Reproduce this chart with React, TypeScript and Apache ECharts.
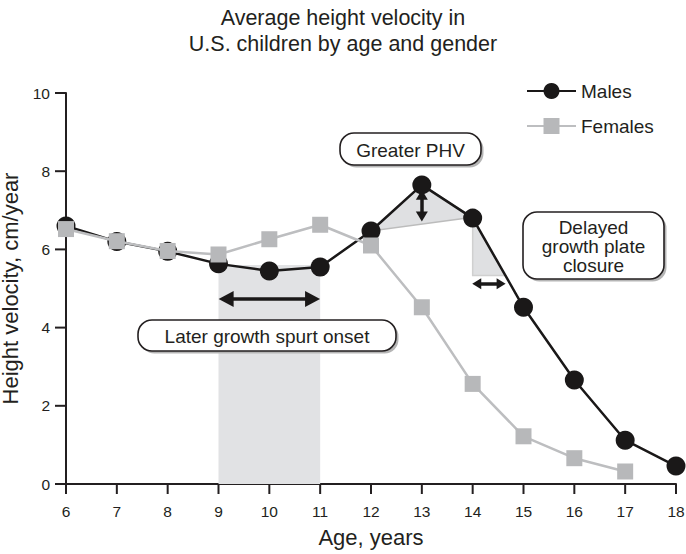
import React, { useEffect, useRef } from "react";
import * as echarts from "echarts";

const ages = [6, 7, 8, 9, 10, 11, 12, 13, 14, 15, 16, 17, 18];
const malesVelocity = [6.6, 6.2, 5.95, 5.63, 5.45, 5.55, 6.47, 7.65, 6.8, 4.52, 2.66, 1.12, 0.46];
const femaleAges = [6, 7, 8, 9, 10, 11, 12, 13, 14, 15, 16, 17];
const femalesVelocity = [6.52, 6.21, 5.96, 5.87, 6.26, 6.63, 6.1, 4.52, 2.56, 1.22, 0.66, 0.32];
const xTicks = [6, 7, 8, 9, 10, 11, 12, 13, 14, 15, 16, 17, 18];
const yTicks = [0, 2, 4, 6, 8, 10];

// annotation geometry in data units
const phvTriangle = [[12, 6.47], [13, 7.65], [14, 6.82]];
const closureTriangle = [[14, 6.8], [14, 5.33], [14.64, 5.33]];
const spurtBand = { x0: 9, x1: 11, top: 5.6 };
const spurtArrow = [[9.15, 4.73], [10.85, 4.73]];
const phvArrow = [[13, 7.4], [13, 6.84]];
const closureArrow = [[14.08, 5.12], [14.56, 5.12]];

const FONT = "'Liberation Sans', Arial, Helvetica, sans-serif";
const TXT = "#231f20";
const INK = "#1a1818";

function box(x: number, y: number, w: number, h: number, lines: string[], r = 14) {
  return {
    type: "group",
    children: [
      { type: "rect", shape: { x: x + 2.5, y: y + 2.5, width: w, height: h, r }, style: { fill: "#b5b5b5" }, z: 10 },
      { type: "rect", shape: { x, y, width: w, height: h, r }, style: { fill: "#fff", stroke: TXT, lineWidth: 1.6 }, z: 11 },
      {
        type: "text",
        x: x + w / 2,
        y: y + h / 2 + 1,
        z: 12,
        style: {
          text: lines.join("\n"),
          fill: TXT,
          font: `19px ${FONT}`,
          lineHeight: 19,
          align: "center",
          verticalAlign: "middle",
        },
      },
    ],
  };
}

const arrowLine = (pts: number[][], size: number[]) => [
  { coord: pts[0], symbolSize: size },
  { coord: pts[1], symbolSize: size },
];

export default function App() {
  const ref = useRef<HTMLDivElement>(null);
  useEffect(() => {
    if (!ref.current) return;
    const chart = echarts.init(ref.current, undefined, { renderer: "svg" });
    const option: any = {
      animation: false,
      backgroundColor: "#fff",
      textStyle: { fontFamily: FONT },
      title: {
        text: "Average height velocity in\nU.S. children by age and gender",
        left: "center",
        top: 0,
        textStyle: { fontSize: 21.5, fontWeight: "normal", color: TXT, lineHeight: 26, fontFamily: FONT },
      },
      legend: {
        orient: "vertical",
        left: 521,
        top: 76,
        itemWidth: 49,
        itemHeight: 20,
        itemGap: 15,
        textStyle: { fontSize: 19, lineHeight: 20, color: TXT, fontFamily: FONT },
        data: ["Males", "Females"],
      },
      grid: { left: 66, right: 10, top: 93, bottom: 70, outerBoundsMode: "none", containLabel: false },
      xAxis: {
        type: "value",
        min: 6,
        max: 18,
        interval: 1,
        name: "Age, years",
        nameLocation: "middle",
        nameGap: 42,
        nameTextStyle: { fontSize: 22, color: TXT, fontFamily: FONT },
        axisLine: { show: true, lineStyle: { color: TXT, width: 2 } },
        axisTick: { show: false },
        axisLabel: { show: true, fontSize: 15.5, color: TXT, margin: 19, fontFamily: FONT },
        splitLine: { show: false },
      },
      yAxis: {
        type: "value",
        min: 0,
        max: 10,
        interval: 2,
        name: "Height velocity, cm/year",
        nameLocation: "middle",
        nameGap: 35,
        nameTextStyle: { fontSize: 22, color: TXT, fontFamily: FONT },
        axisLine: { show: true, lineStyle: { color: TXT, width: 2 } },
        axisTick: { show: false },
        axisLabel: { show: true, fontSize: 15.5, color: TXT, margin: 16, fontFamily: FONT },
        splitLine: { show: false },
      },
      series: [
        {
          name: "shading",
          type: "custom",
          silent: true,
          z: 1,
          data: [0],
          renderItem: (_p: any, api: any) => {
            const poly = (pts: number[][], fill: string, stroke: string) => ({
              type: "polygon",
              shape: { points: pts.map((p) => api.coord(p)) },
              style: { fill, stroke, lineWidth: 1.5 },
            });
            return {
              type: "group",
              children: [
                poly(
                  [[spurtBand.x0, 0], [spurtBand.x1, 0], [spurtBand.x1, spurtBand.top], [spurtBand.x0, spurtBand.top]],
                  "#e1e2e4",
                  "none"
                ),
                poly(phvTriangle, "#dfe0e2", "#bcbcbc"),
                poly(closureTriangle, "#dfe0e2", "#d0d0d0"),
              ],
            };
          },
        },
        {
          name: "Males",
          type: "line",
          z: 3,
          data: ages.map((a, i) => [a, malesVelocity[i]]),
          symbol: "circle",
          symbolSize: 19,
          itemStyle: { color: INK },
          lineStyle: { color: INK, width: 2.5 },
          markLine: {
            silent: true,
            symbol: ["triangle", "triangle"],
            label: { show: false },
            lineStyle: { color: INK, width: 3.5, type: "solid" },
            data: [
              arrowLine(spurtArrow, [16, 15]),
              arrowLine(phvArrow, [12, 10]),
              arrowLine(closureArrow, [11, 9]),
            ],
          },
        },
        {
          name: "Females",
          type: "line",
          z: 4,
          data: femaleAges.map((a, i) => [a, femalesVelocity[i]]),
          symbol: "rect",
          symbolSize: 16,
          itemStyle: { color: "#b7b8ba" },
          lineStyle: { color: "#bdbec0", width: 2.5 },
        },
      ],
    };
    chart.setOption(option);

    const tickEls: any[] = [];
    xTicks.forEach((v) => {
      const p = chart.convertToPixel({ gridIndex: 0 }, [v, 0]) as number[];
      tickEls.push({
        type: "line",
        silent: true,
        z: 5,
        shape: { x1: p[0], y1: p[1], x2: p[0], y2: p[1] + 10 },
        style: { stroke: TXT, lineWidth: 2 },
      });
    });
    yTicks.forEach((v) => {
      const p = chart.convertToPixel({ gridIndex: 0 }, [6, v]) as number[];
      tickEls.push({
        type: "line",
        silent: true,
        z: 5,
        shape: { x1: p[0] - 11, y1: p[1], x2: p[0], y2: p[1] },
        style: { stroke: TXT, lineWidth: 2 },
      });
    });

    chart.setOption({
      graphic: [
        box(340, 133, 141, 32, ["Greater PHV"]),
        box(138, 320, 258, 31, ["Later growth spurt onset"]),
        box(523, 212, 141, 67, ["Delayed", "growth plate", "closure"]),
        ...tickEls,
      ],
    });
    return () => chart.dispose();
  }, []);
  return <div ref={ref} style={{ position: "fixed", left: 0, top: 0, width: 686, height: 554 }} />;
}
